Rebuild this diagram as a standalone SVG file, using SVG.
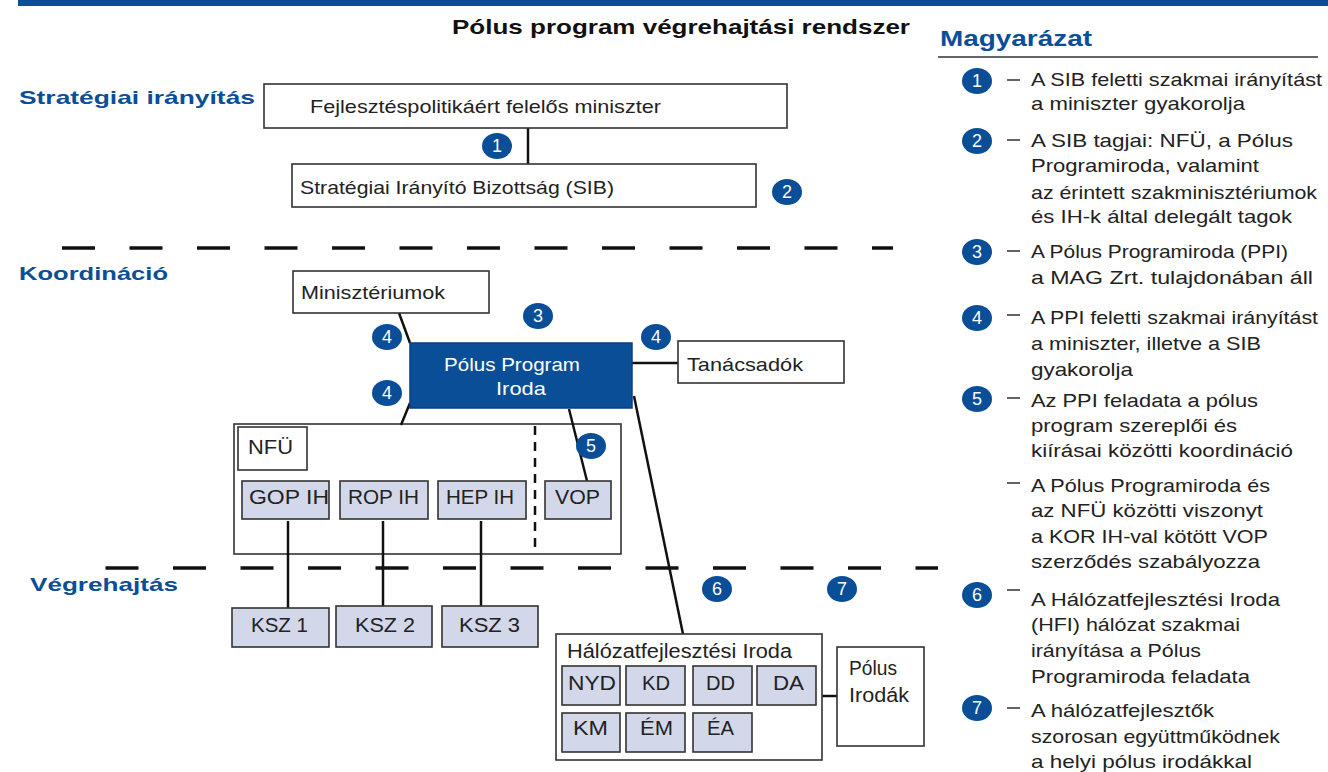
<svg xmlns="http://www.w3.org/2000/svg" width="1328" height="772" viewBox="0 0 1328 772">
<style>
.box{fill:#fff;stroke:#333;stroke-width:1.6}
.frame{fill:none;stroke:#333;stroke-width:1.6}
.sub{fill:#d3d7ea;stroke:#333;stroke-width:1.6}
.t{font-family:'Liberation Sans',Arial,sans-serif;font-size:19px;fill:#222}
.b{font-size:20px}
.h{font-weight:bold;fill:#0b4e98}
.c{fill:#0b4e98}
.n{font-family:'Liberation Sans',Arial,sans-serif;font-size:18px;fill:#fff;text-anchor:middle}
.ln{stroke:#111;stroke-width:2.5;fill:none}
.dash{stroke:#111;stroke-width:3.5;fill:none;stroke-dasharray:33 34.5}
.lg{stroke:#222;stroke-width:1.4}
</style>
<rect x="18" y="0" width="1310" height="6" fill="#0b4e98"/>
<text class="t" x="452" y="34" style="font-weight:bold;font-size:21px;fill:#111" textLength="458" lengthAdjust="spacingAndGlyphs">Pólus program végrehajtási rendszer</text>
<text class="t h" x="940" y="46" style="font-size:22px" textLength="152" lengthAdjust="spacingAndGlyphs">Magyarázat</text>
<line x1="938" y1="57" x2="1318" y2="57" stroke="#333" stroke-width="1.6"/>
<text class="t h" x="19" y="104" textLength="236" lengthAdjust="spacingAndGlyphs">Stratégiai irányítás</text>
<text class="t h" x="19" y="280" textLength="149" lengthAdjust="spacingAndGlyphs">Koordináció</text>
<text class="t h" x="30" y="591" textLength="148" lengthAdjust="spacingAndGlyphs">Végrehajtás</text>

<g id="nfu-group"><rect class="frame" x="234" y="424" width="387" height="130"/></g>

<g id="connectors">
<line class="dash" x1="62" y1="248" x2="893" y2="248"/>
<line class="dash" x1="105.5" y1="568" x2="938" y2="568"/>
<line class="ln" x1="528" y1="128" x2="528" y2="164"/>
<line class="ln" x1="399" y1="313" x2="410" y2="343"/>
<line class="ln" x1="632" y1="363" x2="678" y2="363"/>
<line class="ln" x1="410" y1="403" x2="401" y2="425"/>
<line class="ln" x1="569" y1="409" x2="587" y2="481"/>
<line class="ln" x1="634" y1="396" x2="683" y2="634"/>
<line x1="535" y1="426" x2="535" y2="553" stroke="#111" stroke-width="2.5" stroke-dasharray="9 7"/>
<line class="ln" x1="288" y1="521" x2="288" y2="608"/>
<line class="ln" x1="383" y1="521" x2="383" y2="606"/>
<line class="ln" x1="481" y1="521" x2="481" y2="606"/>
<line class="ln" x1="816" y1="696" x2="837" y2="696"/>
</g>

<g id="miniszter"><rect class="box" x="264" y="84" width="523" height="44"/><text class="t" x="310" y="113" textLength="351" lengthAdjust="spacingAndGlyphs">Fejlesztéspolitikáért felelős miniszter</text></g>
<g id="sib"><rect class="box" x="292" y="164" width="464" height="43"/><text class="t" x="300" y="194" textLength="314" lengthAdjust="spacingAndGlyphs">Stratégiai Irányító Bizottság (SIB)</text></g>
<g id="miniszteriumok"><rect class="box" x="293" y="271" width="196" height="42"/><text class="t" x="301" y="299" textLength="144" lengthAdjust="spacingAndGlyphs">Minisztériumok</text></g>
<g id="ppi"><rect x="410" y="343" width="222" height="65" fill="#0b4e98" stroke="#0a3f7c" stroke-width="1.5"/><text class="t" x="444" y="371" style="fill:#fff" textLength="136" lengthAdjust="spacingAndGlyphs">Pólus Program</text><text class="t" x="496" y="395" style="fill:#fff" textLength="50" lengthAdjust="spacingAndGlyphs">Iroda</text></g>
<g id="tanacsadok"><rect class="box" x="678" y="341" width="166" height="42"/><text class="t" x="687" y="371" textLength="116" lengthAdjust="spacingAndGlyphs">Tanácsadók</text></g>

<g id="nfu"><rect class="box" x="238" y="427" width="69" height="43"/><text class="t b" x="248" y="454" textLength="45" lengthAdjust="spacingAndGlyphs">NFÜ</text></g>
<g id="gop"><rect class="sub" x="242" y="481" width="87" height="38"/><text class="t b" x="249" y="504" textLength="80" lengthAdjust="spacingAndGlyphs">GOP IH</text></g>
<g id="rop"><rect class="sub" x="340" y="481" width="88" height="38"/><text class="t b" x="348" y="504" textLength="71" lengthAdjust="spacingAndGlyphs">ROP IH</text></g>
<g id="hep"><rect class="sub" x="438" y="481" width="88" height="38"/><text class="t b" x="446" y="504" textLength="68" lengthAdjust="spacingAndGlyphs">HEP IH</text></g>
<g id="vop"><rect class="sub" x="545" y="481" width="66" height="38"/><text class="t b" x="555" y="504" textLength="45" lengthAdjust="spacingAndGlyphs">VOP</text></g>

<g id="ksz1"><rect class="sub" x="232" y="608" width="97" height="39"/><text class="t b" x="251" y="632" textLength="57" lengthAdjust="spacingAndGlyphs">KSZ 1</text></g>
<g id="ksz2"><rect class="sub" x="336" y="606" width="96" height="41"/><text class="t b" x="355" y="632" textLength="60" lengthAdjust="spacingAndGlyphs">KSZ 2</text></g>
<g id="ksz3"><rect class="sub" x="442" y="606" width="96" height="41"/><text class="t b" x="459" y="632" textLength="61" lengthAdjust="spacingAndGlyphs">KSZ 3</text></g>

<g id="hfi"><rect class="box" x="556" y="634" width="266" height="126"/><text class="t b" x="567" y="658" textLength="225" lengthAdjust="spacingAndGlyphs">Hálózatfejlesztési Iroda</text></g>
<g id="nyd"><rect class="sub" x="562" y="666" width="58" height="39"/><text class="t b" x="568" y="690" textLength="48" lengthAdjust="spacingAndGlyphs">NYD</text></g>
<g id="kd"><rect class="sub" x="626" y="666" width="59" height="39"/><text class="t b" x="642" y="690" textLength="28" lengthAdjust="spacingAndGlyphs">KD</text></g>
<g id="dd"><rect class="sub" x="693" y="666" width="59" height="39"/><text class="t b" x="706" y="690" textLength="29" lengthAdjust="spacingAndGlyphs">DD</text></g>
<g id="da"><rect class="sub" x="757" y="666" width="59" height="39"/><text class="t b" x="773" y="690" textLength="31" lengthAdjust="spacingAndGlyphs">DA</text></g>
<g id="km"><rect class="sub" x="562" y="713" width="58" height="39"/><text class="t b" x="573" y="735" textLength="35" lengthAdjust="spacingAndGlyphs">KM</text></g>
<g id="em"><rect class="sub" x="626" y="713" width="59" height="39"/><text class="t b" x="640" y="735" textLength="33" lengthAdjust="spacingAndGlyphs">ÉM</text></g>
<g id="ea"><rect class="sub" x="693" y="713" width="59" height="39"/><text class="t b" x="707" y="735" textLength="27" lengthAdjust="spacingAndGlyphs">ÉA</text></g>
<g id="polus-irodak"><rect class="box" x="837" y="647" width="87" height="99"/><text class="t b" x="849" y="675" textLength="48" lengthAdjust="spacingAndGlyphs">Pólus</text><text class="t b" x="849" y="702" textLength="60" lengthAdjust="spacingAndGlyphs">Irodák</text></g>

<g id="badges">
<ellipse class="c" cx="497" cy="146" rx="15" ry="13"/><text class="n" x="497" y="152">1</text>
<ellipse class="c" cx="787" cy="192" rx="15" ry="13"/><text class="n" x="787" y="198">2</text>
<ellipse class="c" cx="538" cy="316" rx="15" ry="13"/><text class="n" x="538" y="322">3</text>
<ellipse class="c" cx="387" cy="337" rx="15" ry="13"/><text class="n" x="387" y="343">4</text>
<ellipse class="c" cx="387" cy="393" rx="15" ry="13"/><text class="n" x="387" y="399">4</text>
<ellipse class="c" cx="656" cy="337" rx="15" ry="13"/><text class="n" x="656" y="343">4</text>
<ellipse class="c" cx="591" cy="446" rx="15" ry="13"/><text class="n" x="591" y="452">5</text>
<ellipse class="c" cx="717" cy="589" rx="15" ry="13"/><text class="n" x="717" y="595">6</text>
<ellipse class="c" cx="842" cy="589" rx="15" ry="13"/><text class="n" x="842" y="595">7</text>
</g>

<g id="legend">
<ellipse class="c" cx="977" cy="81" rx="15" ry="13"/><text class="n" x="977" y="87">1</text>
<line class="lg" x1="1007" y1="80" x2="1020" y2="80"/>
<text class="t" x="1031" y="86" textLength="291" lengthAdjust="spacingAndGlyphs">A SIB feletti szakmai irányítást</text>
<text class="t" x="1031" y="110" textLength="214" lengthAdjust="spacingAndGlyphs">a miniszter gyakorolja</text>

<ellipse class="c" cx="977" cy="141" rx="15" ry="13"/><text class="n" x="977" y="147">2</text>
<line class="lg" x1="1007" y1="140" x2="1020" y2="140"/>
<text class="t" x="1031" y="147" textLength="262" lengthAdjust="spacingAndGlyphs">A SIB tagjai: NFÜ, a Pólus</text>
<text class="t" x="1031" y="172" textLength="228" lengthAdjust="spacingAndGlyphs">Programiroda, valamint</text>
<text class="t" x="1031" y="199" textLength="286" lengthAdjust="spacingAndGlyphs">az érintett szakminisztériumok</text>
<text class="t" x="1031" y="223" textLength="261" lengthAdjust="spacingAndGlyphs">és IH-k által delegált tagok</text>

<ellipse class="c" cx="977" cy="252" rx="15" ry="13"/><text class="n" x="977" y="258">3</text>
<line class="lg" x1="1007" y1="251" x2="1020" y2="251"/>
<text class="t" x="1031" y="258" textLength="257" lengthAdjust="spacingAndGlyphs">A Pólus Programiroda (PPI)</text>
<text class="t" x="1031" y="284" textLength="282" lengthAdjust="spacingAndGlyphs">a MAG Zrt. tulajdonában áll</text>

<ellipse class="c" cx="977" cy="318" rx="15" ry="13"/><text class="n" x="977" y="324">4</text>
<line class="lg" x1="1007" y1="315" x2="1020" y2="315"/>
<text class="t" x="1031" y="324" textLength="287" lengthAdjust="spacingAndGlyphs">A PPI feletti szakmai irányítást</text>
<text class="t" x="1031" y="350" textLength="230" lengthAdjust="spacingAndGlyphs">a miniszter, illetve a SIB</text>
<text class="t" x="1031" y="376" textLength="102" lengthAdjust="spacingAndGlyphs">gyakorolja</text>

<ellipse class="c" cx="977" cy="399" rx="15" ry="13"/><text class="n" x="977" y="405">5</text>
<line class="lg" x1="1007" y1="398" x2="1020" y2="398"/>
<text class="t" x="1031" y="407" textLength="227" lengthAdjust="spacingAndGlyphs">Az PPI feladata a pólus</text>
<text class="t" x="1031" y="432" textLength="206" lengthAdjust="spacingAndGlyphs">program szereplői és</text>
<text class="t" x="1031" y="457" textLength="262" lengthAdjust="spacingAndGlyphs">kiírásai közötti koordináció</text>

<line class="lg" x1="1007" y1="483" x2="1020" y2="483"/>
<text class="t" x="1031" y="492" textLength="239" lengthAdjust="spacingAndGlyphs">A Pólus Programiroda és</text>
<text class="t" x="1031" y="517" textLength="232" lengthAdjust="spacingAndGlyphs">az NFÜ közötti viszonyt</text>
<text class="t" x="1031" y="543" textLength="237" lengthAdjust="spacingAndGlyphs">a KOR IH-val kötött VOP</text>
<text class="t" x="1031" y="568" textLength="229" lengthAdjust="spacingAndGlyphs">szerződés szabályozza</text>

<ellipse class="c" cx="977" cy="595" rx="15" ry="13"/><text class="n" x="977" y="601">6</text>
<line class="lg" x1="1007" y1="590" x2="1020" y2="590"/>
<text class="t" x="1031" y="606" textLength="249" lengthAdjust="spacingAndGlyphs">A Hálózatfejlesztési Iroda</text>
<text class="t" x="1031" y="631" textLength="209" lengthAdjust="spacingAndGlyphs">(HFI) hálózat szakmai</text>
<text class="t" x="1031" y="657" textLength="170" lengthAdjust="spacingAndGlyphs">irányítása a Pólus</text>
<text class="t" x="1031" y="683" textLength="219" lengthAdjust="spacingAndGlyphs">Programiroda feladata</text>

<ellipse class="c" cx="977" cy="708" rx="15" ry="13"/><text class="n" x="977" y="714">7</text>
<line class="lg" x1="1007" y1="708" x2="1020" y2="708"/>
<text class="t" x="1031" y="717" textLength="183" lengthAdjust="spacingAndGlyphs">A hálózatfejlesztők</text>
<text class="t" x="1031" y="743" textLength="249" lengthAdjust="spacingAndGlyphs">szorosan együttműködnek</text>
<text class="t" x="1031" y="768" textLength="221" lengthAdjust="spacingAndGlyphs">a helyi pólus irodákkal</text>
</g>
</svg>
